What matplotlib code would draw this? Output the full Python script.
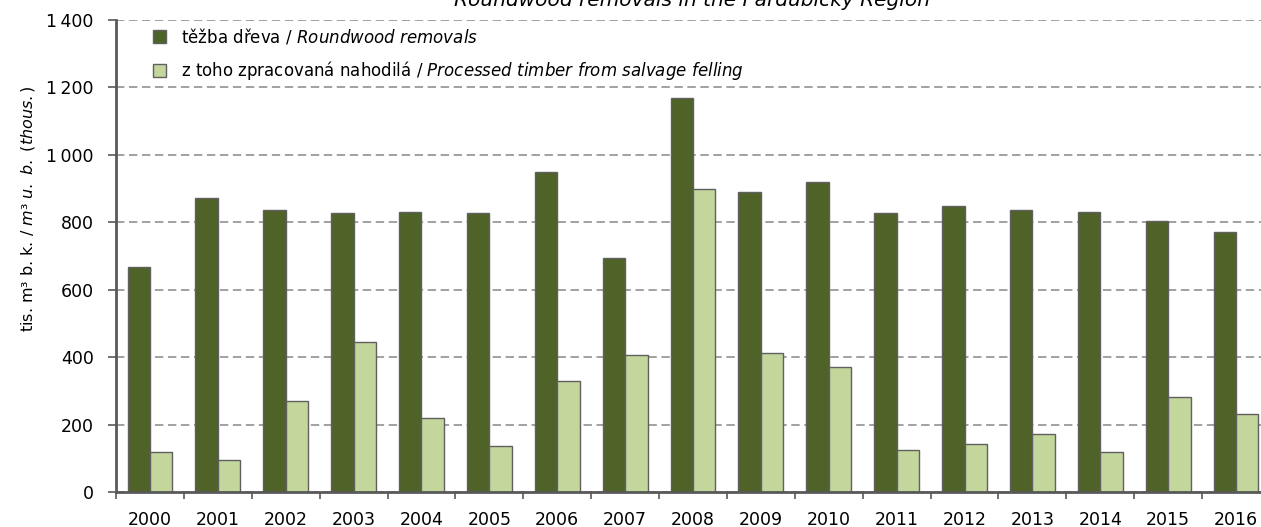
import matplotlib
matplotlib.use("Agg")
import matplotlib.pyplot as plt
import numpy as np

plt.rcParams['font.family'] = ['DejaVu Sans']
plt.rcParams['mathtext.fontset'] = 'dejavusans'

years = ['2000', '2001', '2002', '2003', '2004', '2005', '2006', '2007', '2008',
         '2009', '2010', '2011', '2012', '2013', '2014', '2015', '2016']
removals = [668, 872, 836, 828, 830, 828, 949, 694, 1169, 890, 920, 828, 848, 836, 830, 804, 771]
salvage = [119, 95, 270, 445, 219, 136, 329, 406, 899, 412, 371, 125, 142, 172, 119, 282, 231]
yticks = [0, 200, 400, 600, 800, 1000, 1200, 1400]
yticklabels = ['0', '200', '400', '600', '800', '1\u2009000', '1\u2009200', '1\u2009400']

dark = '#4F6228'
light = '#C3D69B'
edge = '#606060'

fig = plt.figure(figsize=(12.61, 5.27), dpi=100)
ax = fig.add_axes([116/1261, 35/527, 1154/1261, 472/527])

x = np.arange(len(years))
w = 0.33
ax.bar(x - w/2, removals, w, color=dark, edgecolor=edge, linewidth=1.0, zorder=3,
       label='těžba dřeva / $\\it{Roundwood\\ removals}$')
ax.bar(x + w/2, salvage, w, color=light, edgecolor=edge, linewidth=1.0, zorder=3,
       label='z toho zpracovaná nahodilá / $\\it{Processed\\ timber\\ from\\ salvage\\ felling}$')

ax.set_xlim(-0.5, len(years) - 0.5)
ax.set_ylim(0, 1400)
ax.set_yticks(yticks)
ax.set_yticklabels(yticklabels, fontsize=12.5)
ax.set_xticks(x)
ax.set_xticklabels(years, fontsize=12.5)
ax.tick_params(axis='x', which='major', length=0, pad=14)
ax.set_xticks(np.arange(-0.5, len(years), 1.0), minor=True)
ax.tick_params(axis='x', which='minor', length=5, width=1.2, color='#595959', direction='out')
ax.tick_params(axis='y', length=6, width=1.2, color='#595959', direction='out', pad=10)

ax.grid(axis='y', linestyle=(0, (5.5, 3)), color='#888888', linewidth=1.1, zorder=0)
for s in ['top', 'right']:
    ax.spines[s].set_visible(False)
for s in ['left', 'bottom']:
    ax.spines[s].set_color('#595959')
    ax.spines[s].set_linewidth(2)
    ax.spines[s].set_zorder(4)

ax.set_ylabel('tis. m³ b. k. / $\\it{m³\\ u.\\ b.\\ (thous.)}$', fontsize=11.5)
ax.yaxis.set_label_coords(-(116 - 37) / 1154, 0.6)

fig.text(692/1261, 1 - 6/527, 'Roundwood removals in the Pardubický Region', fontsize=14.5,
         style='italic', ha='center', va='baseline')

leg = ax.legend(loc='upper left', bbox_to_anchor=((153 - 116) / 1154, 1 - 6/472),
                frameon=False, fontsize=12, borderaxespad=0, borderpad=0,
                handlelength=0.8, handleheight=0.85, handletextpad=0.9, labelspacing=0.8)

fig.savefig('out.png', dpi=100)
